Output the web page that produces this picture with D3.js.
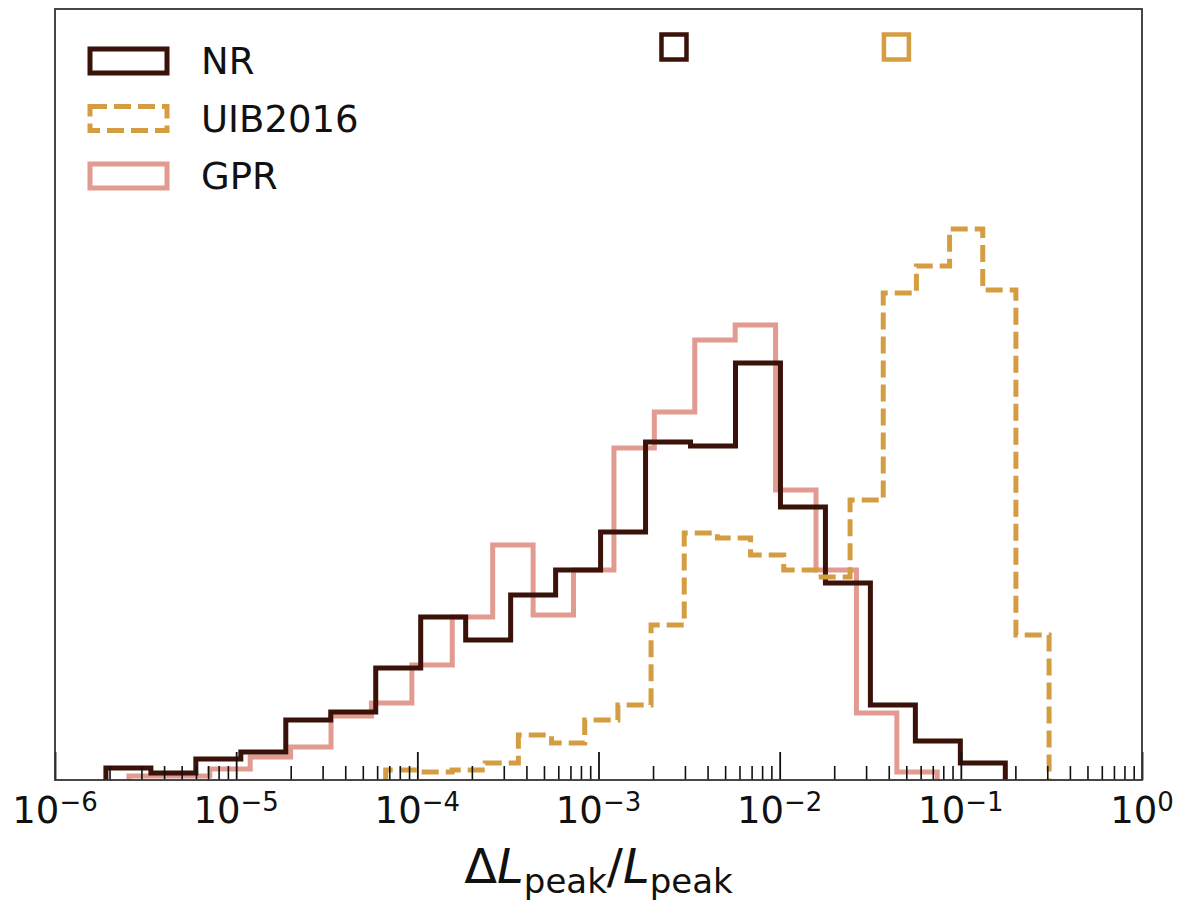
<!DOCTYPE html>
<html>
<head>
<meta charset="utf-8">
<script src="https://cdn.jsdelivr.net/npm/d3@7"></script>
<style>
  body { margin: 0; background: #fff; }
  text { font-family: "DejaVu Sans", sans-serif; }
</style>
</head>
<body>
<div id="chart"></div>
<script>
// histogram counts (arbitrary units), 20 log bins each
var NR_COUNTS  = [12, 7, 21, 28, 60, 68, 112, 163, 140, 185, 210, 248, 338, 334, 417, 273, 197, 75, 39, 17];
var NR_RANGE   = [1.91e-6, 0.176];
var UIB_COUNTS = [10, 8, 10, 17, 45, 37, 60, 75, 155, 247, 242, 225, 210, 203, 280, 487, 514, 551, 490, 145];
var UIB_RANGE  = [6.69e-5, 0.307];
var GPR_COUNTS = [4, 4, 11, 23, 33, 64, 77, 115, 163, 235, 165, 210, 332, 368, 440, 455, 290, 210, 67, 8];
var GPR_RANGE  = [2.56e-6, 0.0741];

// square markers along the top
var MARK_X = [2.61e-3, 0.0441];
var MARK_Y = 733;
var MARK_SERIES = ["NR", "UIB2016"];

var X_DOMAIN = [1e-6, 1];
var Y_MAX = 771;
var MAJOR_TICKS = [1e-6, 1e-5, 1e-4, 1e-3, 1e-2, 1e-1, 1];

var COLORS = {"NR": "#3a1209", "UIB2016": "#d59d42", "GPR": "#dd897d"};

var width = 1185, height = 907;
var pLeft = 55, pRight = 1142, pTop = 9, pBottom = 780;

var svg = d3.select("#chart").append("svg")
    .attr("width", width)
    .attr("height", height)
    .style("display", "block");

svg.append("rect").attr("width", width).attr("height", height).attr("fill", "#fff");

var x = d3.scaleLog().domain(X_DOMAIN).range([pLeft, pRight]);
var y = d3.scaleLinear().domain([0, Y_MAX]).range([pBottom, pTop]);

svg.append("defs").append("clipPath")
    .attr("id", "plotclip")
  .append("rect")
    .attr("x", pLeft).attr("y", pTop)
    .attr("width", pRight - pLeft).attr("height", pBottom - pTop);

// bin edges evenly spaced in log between the data min and max
function edges(range, n) {
  var a = Math.log10(range[0]), b = Math.log10(range[1]);
  return d3.range(n + 1).map(function(i) { return Math.pow(10, a + (b - a) * i / n); });
}

function stepPoints(counts, range) {
  var e = edges(range, counts.length);
  var pts = [[e[0], 0]];
  counts.forEach(function(c, i) {
    pts.push([e[i], c]);
    pts.push([e[i + 1], c]);
  });
  pts.push([e[counts.length], 0]);
  return pts;
}

var line = d3.line()
    .x(function(d) { return x(d[0]); })
    .y(function(d) { return y(d[1]); });

var series = [
  {name: "GPR", counts: GPR_COUNTS, range: GPR_RANGE, dash: null, opacity: 0.85},
  {name: "NR", counts: NR_COUNTS, range: NR_RANGE, dash: null, opacity: 1},
  {name: "UIB2016", counts: UIB_COUNTS, range: UIB_RANGE, dash: "17,7", opacity: 1}
];

var plot = svg.append("g").attr("clip-path", "url(#plotclip)");

plot.selectAll("path.hist")
    .data(series)
    .enter().append("path")
    .attr("class", "hist")
    .attr("d", function(d) { return line(stepPoints(d.counts, d.range)); })
    .attr("fill", "none")
    .attr("stroke", function(d) { return COLORS[d.name]; })
    .attr("stroke-width", 5)
    .attr("stroke-opacity", function(d) { return d.opacity; })
    .attr("stroke-dasharray", function(d) { return d.dash; })
    .attr("stroke-linejoin", "miter");

// square markers
var msize = 25;
plot.selectAll("rect.mark")
    .data(MARK_X)
    .enter().append("rect")
    .attr("class", "mark")
    .attr("x", function(d) { return x(d) - msize / 2; })
    .attr("y", y(MARK_Y) - msize / 2)
    .attr("width", msize)
    .attr("height", msize)
    .attr("fill", "#fff")
    .attr("stroke", function(d, i) { return COLORS[MARK_SERIES[i]]; })
    .attr("stroke-width", 4.5);

// minor + major ticks, pointing inwards
var minor = [];
for (var k = -6; k < 0; k++) {
  for (var m = 2; m <= 9; m++) minor.push(m * Math.pow(10, k));
}

var minorAxis = d3.axisBottom(x).tickValues(minor).tickSize(-14).tickFormat("");
var majorAxis = d3.axisBottom(x).tickValues(MAJOR_TICKS).tickSize(-28).tickFormat("");

svg.append("g").attr("transform", "translate(0," + pBottom + ")").call(minorAxis)
  .call(function(g) { g.select(".domain").remove(); g.selectAll("line").attr("stroke", "#111").attr("stroke-width", 1.6); });
svg.append("g").attr("transform", "translate(0," + pBottom + ")").call(majorAxis)
  .call(function(g) { g.select(".domain").remove(); g.selectAll("line").attr("stroke", "#111").attr("stroke-width", 1.8); });

// frame
svg.append("rect")
    .attr("x", pLeft).attr("y", pTop)
    .attr("width", pRight - pLeft).attr("height", pBottom - pTop)
    .attr("fill", "none")
    .attr("stroke", "#333")
    .attr("stroke-width", 1.8);

// tick labels 10^k
var labels = svg.append("g");
MAJOR_TICKS.forEach(function(v) {
  var k = Math.round(Math.log10(v));
  var t = labels.append("text")
      .attr("x", x(v))
      .attr("y", 823)
      .attr("text-anchor", "middle")
      .attr("fill", "#111");
  t.append("tspan").attr("font-size", "37px").text("10");
  t.append("tspan").attr("font-size", "26px").attr("dy", -12)
      .text(k === 0 ? "0" : "\u2212" + Math.abs(k));
});

// x axis title
var xt = svg.append("text")
    .attr("x", (pLeft + pRight) / 2)
    .attr("y", 883)
    .attr("text-anchor", "middle")
    .attr("fill", "#111")
    .attr("font-size", "48px");
xt.append("tspan").text("\u0394");
xt.append("tspan").attr("font-style", "italic").text("L");
xt.append("tspan").attr("font-size", "34px").attr("dy", 10).text("peak");
xt.append("tspan").attr("dy", -10).text("/");
xt.append("tspan").attr("font-style", "italic").text("L");
xt.append("tspan").attr("font-size", "34px").attr("dy", 10).text("peak");

// legend
var legendItems = [
  {name: "NR", dash: null, opacity: 1},
  {name: "UIB2016", dash: "17,7", opacity: 1},
  {name: "GPR", dash: null, opacity: 0.85}
];

var legend = svg.append("g");
var item = legend.selectAll("g")
    .data(legendItems)
    .enter().append("g")
    .attr("transform", function(d, i) { return "translate(0," + (i * 57.5) + ")"; });

item.append("rect")
    .attr("x", 90).attr("y", 49)
    .attr("width", 77).attr("height", 24)
    .attr("fill", "none")
    .attr("stroke", function(d) { return COLORS[d.name]; })
    .attr("stroke-width", 5)
    .attr("stroke-opacity", function(d) { return d.opacity; })
    .attr("stroke-dasharray", function(d) { return d.dash; });

item.append("text")
    .attr("x", 201)
    .attr("y", 74)
    .attr("font-size", "37px")
    .attr("fill", "#111")
    .text(function(d) { return d.name; });
</script>
</body>
</html>
